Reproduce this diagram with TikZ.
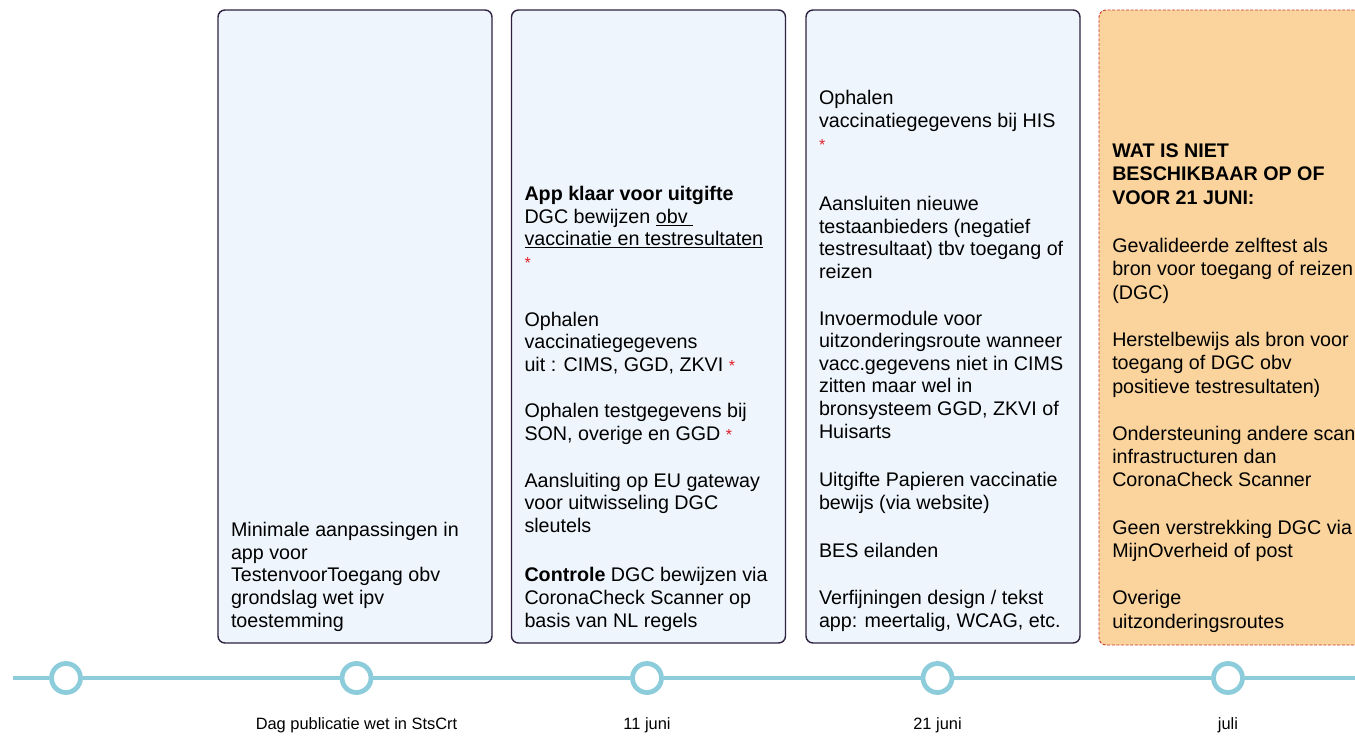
\documentclass[tikz,border=0pt]{standalone}
\usepackage{fontspec}
\setmainfont{Liberation Sans}
\usetikzlibrary{positioning}

\definecolor{boxfill}{HTML}{EEF5FC}
\definecolor{boxline}{HTML}{2E2240}
\definecolor{notfill}{HTML}{FAD49C}
\definecolor{notline}{HTML}{C8382E}
\definecolor{lineblue}{HTML}{8DCDDB}
\definecolor{starred}{HTML}{E0202A}

\newcommand{\redstar}{{\fontsize{16}{16}\selectfont\textcolor{starred}{*}}}

\begin{document}
\begin{tikzpicture}[x=1pt,y=-1pt]
    \useasboundingbox (0,0) rectangle (1355,737);
    \begin{scope}[
        mybox/.style={rectangle, draw=boxline, line width=1.4pt, fill=boxfill, rounded corners=7pt,
            minimum width=274pt, minimum height=633pt, inner sep=0pt},
        mynot/.style={rectangle, draw=notline, line width=0.9pt, dash pattern=on 3pt off 1.6pt, fill=notfill,
            rounded corners=7pt, minimum width=290pt, minimum height=635pt, inner sep=0pt},
        mytext/.style={inner sep=0pt, align=left, font=\fontsize{19.7}{22.6}\selectfont},
        mydot/.style={circle, draw=lineblue, line width=4.8pt, fill=white, minimum size=29pt, inner sep=0pt},
        mylabel/.style={anchor=base, inner sep=0pt, font=\fontsize{16.4}{18}\selectfont}]
    % the four columns
    \node [mybox] (publ)  at (355,326.5)   {};
    \node [mybox] (jun11) at (648.5,326.5) {};
    \node [mybox] (jun21) at (943,326.5)   {};
    \node [mynot] (juli)  at (1244,327.5)  {};
    % texts, bottom aligned
    \node [mytext, above right=12.4pt and 13.5pt of publ.south west] (publtext) {Minimale aanpassingen in\\
    app voor\\
    TestenvoorToegang obv\\
    grondslag wet ipv\\
    toestemming};
    \node [mytext, above right=12.4pt and 13.5pt of jun11.south west] (jun11text) {\textbf{App klaar voor uitgifte}\\
    DGC bewijzen \underline{obv\ }\\
    \underline{vaccinatie en testresultaten}\\
    \redstar\\[35pt]
    Ophalen\\
    vaccinatiegegevens\\
    uit : CIMS, GGD, ZKVI \redstar\\[24pt]
    Ophalen testgegevens bij\\
    SON, overige en GGD \redstar\\[24pt]
    Aansluiting op EU gateway\\
    voor uitwisseling DGC\\
    sleutels\\[27pt]
    \textbf{Controle} DGC bewijzen via\\
    CoronaCheck Scanner op\\
    basis van NL regels};
    \node [mytext, above right=12.4pt and 13.5pt of jun21.south west] (jun21text) {Ophalen\\
    vaccinatiegegevens bij HIS\\
    \redstar\\[38pt]
    Aansluiten nieuwe\\
    testaanbieders (negatief\\
    testresultaat) tbv toegang of\\
    reizen\\[24pt]
    Invoermodule voor\\
    uitzonderingsroute wanneer\\
    vacc.gegevens niet in CIMS\\
    zitten maar wel in\\
    bronsysteem GGD, ZKVI of\\
    Huisarts\\[26pt]
    Uitgifte Papieren vaccinatie\\
    bewijs (via website)\\[26pt]
    BES eilanden\\[24pt]
    Verfijningen design / tekst\\
    app: meertalig, WCAG, etc.};
    \node [mytext, font=\fontsize{19.7}{23.3}\selectfont, above right=13pt and 13.5pt of juli.south west] (julitext) {\textbf{WAT IS NIET}\\
    \textbf{BESCHIKBAAR OP OF}\\
    \textbf{VOOR 21 JUNI:}\\[25pt]
    Gevalideerde zelftest als\\
    bron voor toegang of reizen\\
    (DGC)\\[24pt]
    Herstelbewijs als bron voor\\
    toegang of DGC obv\\
    positieve testresultaten)\\[24pt]
    Ondersteuning andere scan\\
    infrastructuren dan\\
    CoronaCheck Scanner\\[24pt]
    Geen verstrekking DGC via\\
    MijnOverheid of post\\[24pt]
    Overige\\
    uitzonderingsroutes};
    % timeline
    \coordinate (tlstart) at (13,678);
    \coordinate (tlend) at (1360,678);
    \node [mydot] (d0)     at (66,678)    {};
    \node [mydot] (dpubl)  at (356.5,678) {};
    \node [mydot] (djun11) at (647,678)   {};
    \node [mydot] (djun21) at (937.5,678) {};
    \node [mydot] (djuli)  at (1228,678)  {};
    \foreach \a/\b in {tlstart/d0, d0/dpubl, dpubl/djun11, djun11/djun21, djun21/djuli, djuli/tlend}
        \draw [lineblue, line width=4.8pt] (\a) -- (\b);
    \node [mylabel] (lpubl)  at ([yshift=-51pt]dpubl.center)  {Dag publicatie wet in StsCrt};
    \node [mylabel] (ljun11) at ([yshift=-51pt]djun11.center) {11 juni};
    \node [mylabel] (ljun21) at ([yshift=-51pt]djun21.center) {21 juni};
    \node [mylabel] (ljuli)  at ([yshift=-51pt]djuli.center)  {juli};
    \end{scope}
\end{tikzpicture}
\end{document}
